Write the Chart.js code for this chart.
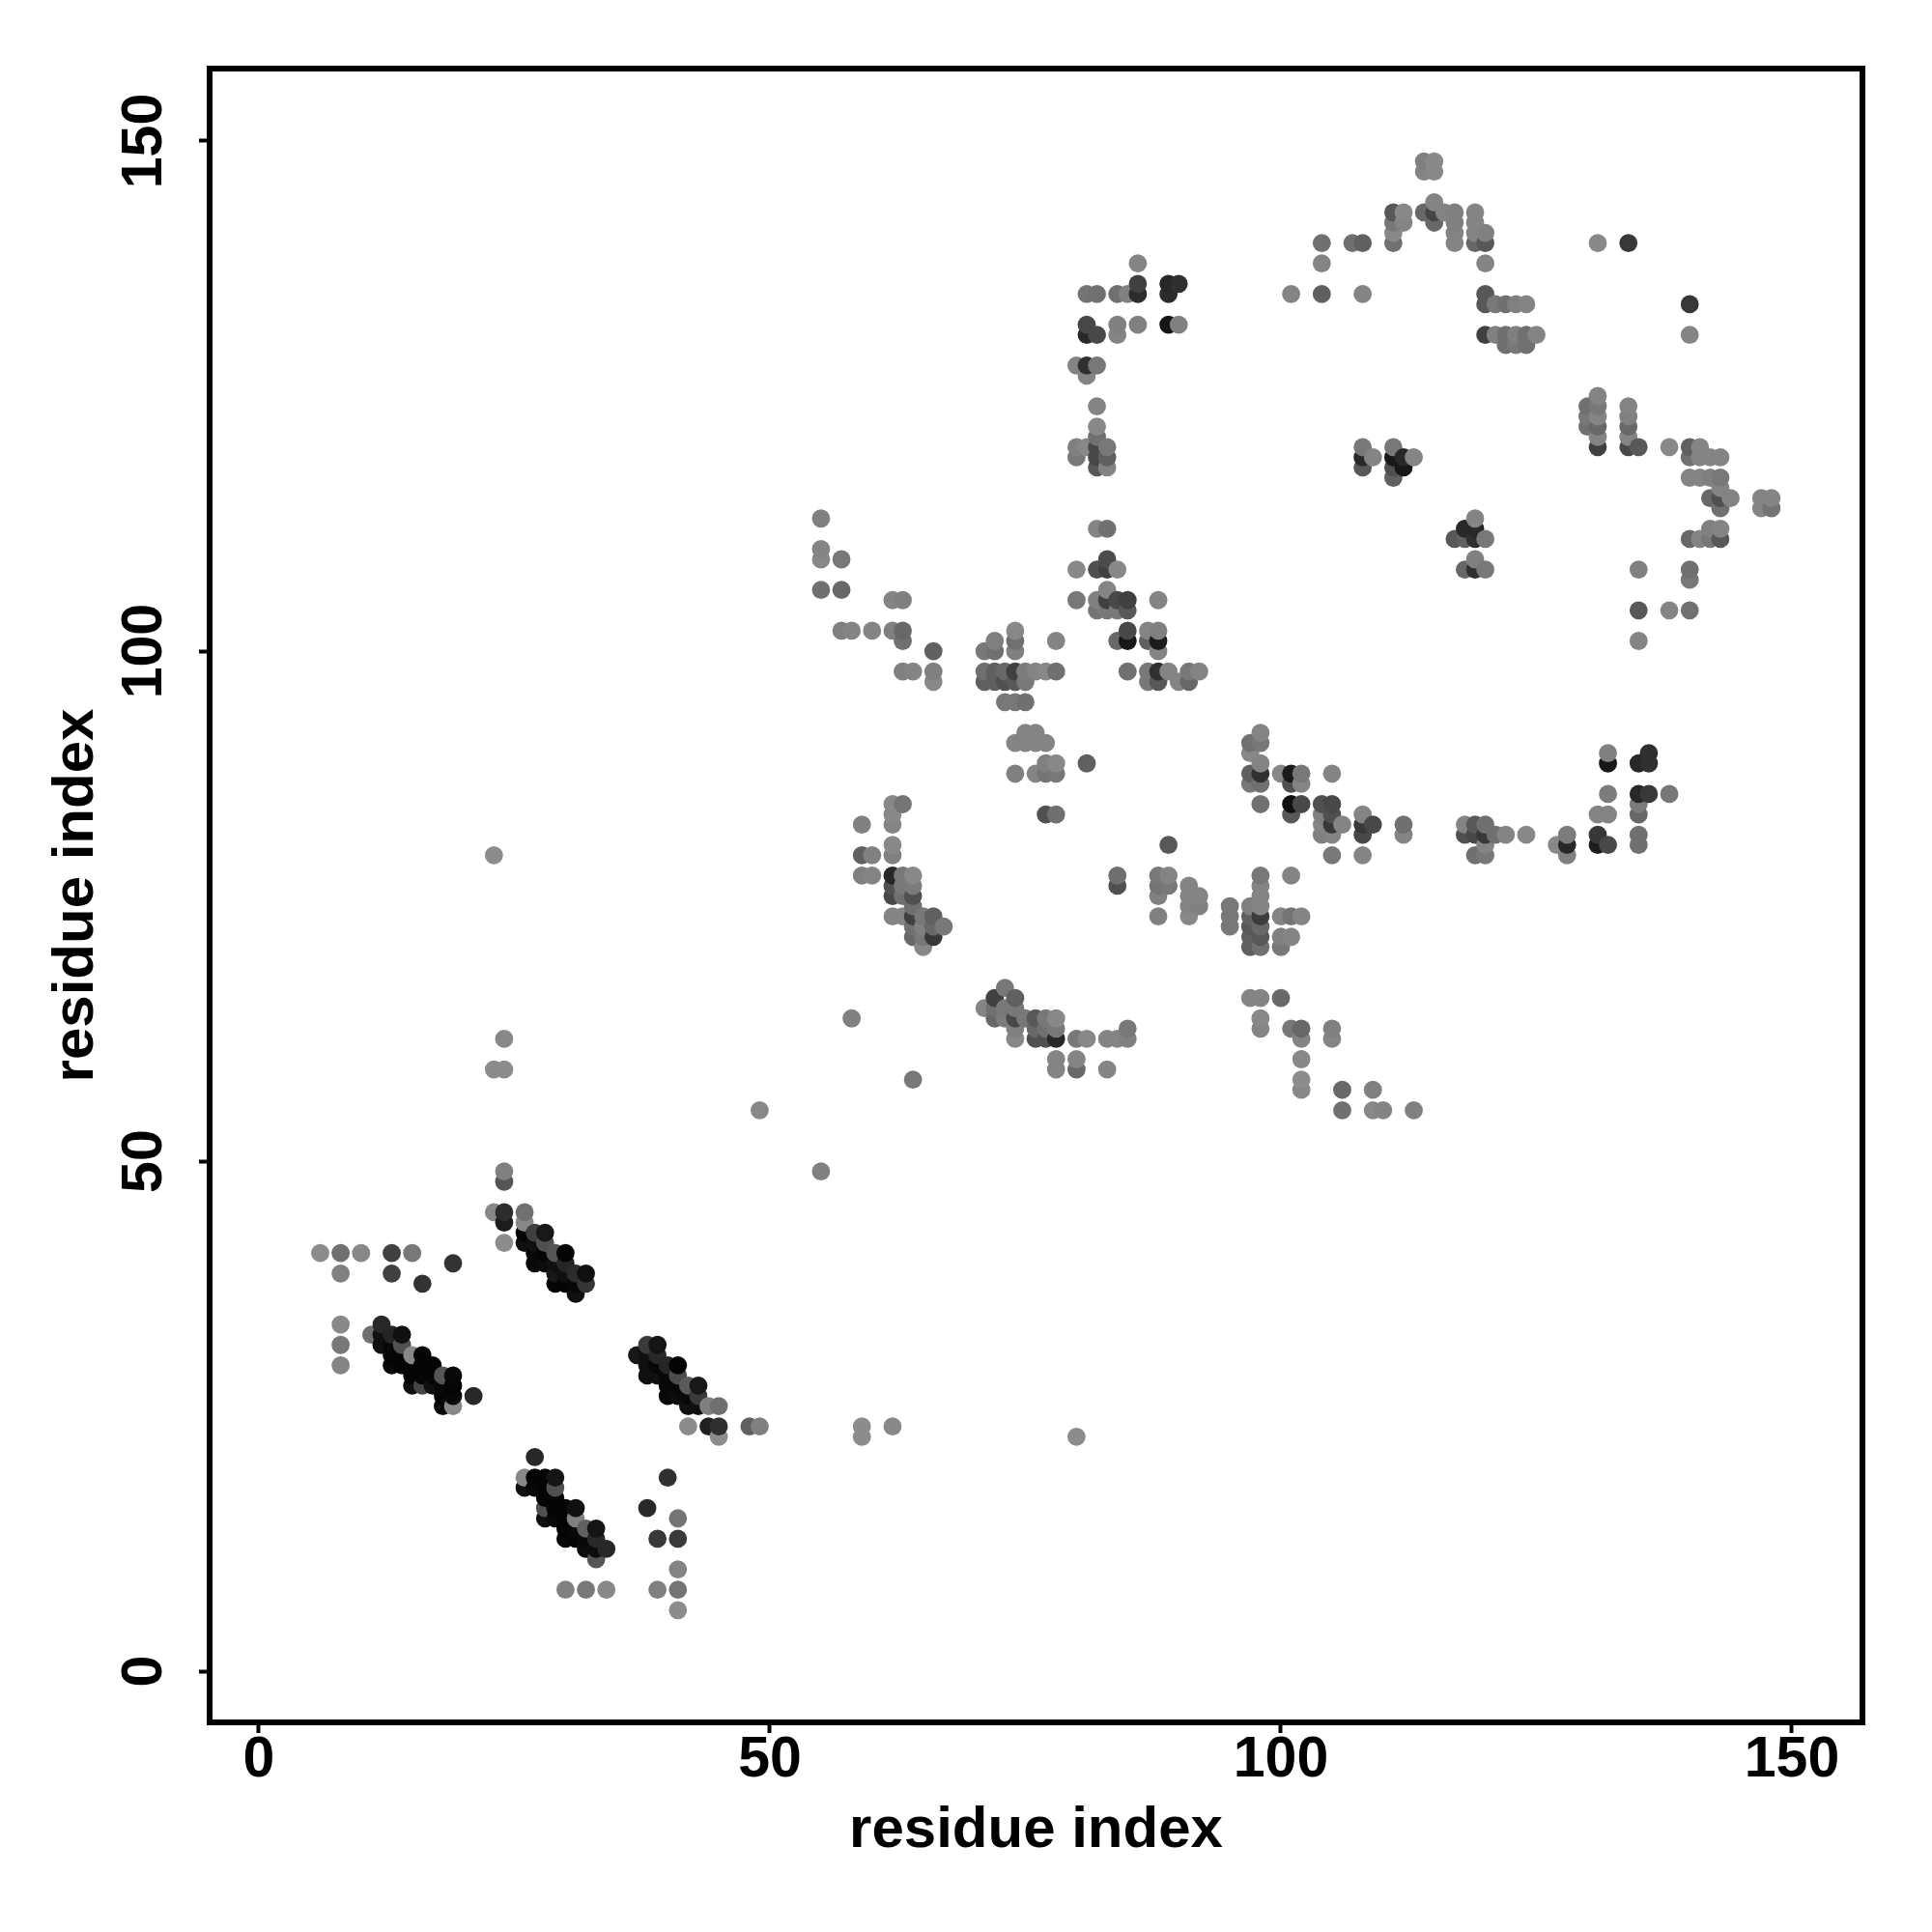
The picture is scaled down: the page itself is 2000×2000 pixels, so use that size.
<!DOCTYPE html>
<html>
<head>
<meta charset="utf-8">
<title>Residue contact map</title>
<script src="https://cdn.jsdelivr.net/npm/chart.js@4/dist/chart.umd.min.js"></script>
<style>
  html, body { margin: 0; padding: 0; background: #fff; }
  canvas { display: block; }
</style>
</head>
<body>
<canvas id="contactMap" width="2000" height="2000"></canvas>
<script>
// Tick positions shared by both axes
const tickValues = [0, 50, 100, 150];
const axisTitle = 'residue index';

// One entry per residue on the x axis; contactY and contactScore hold the partner
// residues in that column and how strong each contact looks (darker = higher)
const residueX = [
  6, 8, 10, 11, 12, 13, 14, 15, 16, 17, 18, 19, 21, 23, 24, 26, 27, 28, 29, 30, 31, 32, 33, 34,
  37, 38, 39, 40, 41, 42, 43, 44, 45, 48, 49, 55, 57, 58, 59, 60, 62, 63, 64, 65, 66, 67,
  71, 72, 73, 74, 75, 76, 77, 78, 80, 81, 82, 83, 84, 85, 86, 87, 88, 89, 90, 91, 92, 95, 97, 98,
  100, 101, 102, 104, 105, 106, 107, 108, 109, 110, 111, 112, 113, 114, 115, 116, 117, 118, 119, 120,
  121, 122, 123, 124, 125, 127, 128, 130, 131, 132, 134, 135, 136, 138, 140, 141, 142, 143, 144, 147, 148
];

const contactY = [
  [41], [30,32,34,39,41], [41], [33], [32,33,34], [30,31,32,33,39,41], [30,31,32,33], [28,29,30,31,41],
  [28,29,30,31,38], [28,29,30], [26,27,28,29], [26,27,28,29,40], [27], [45,59,80], [42,44,45,48,49,59,62],
  [18,19,42,43,44,45], [18,19,21,40,41,42,43], [15,16,17,18,19,40,41,42,43], [15,16,17,18,19,38,39,40,41],
  [8,13,14,15,16,38,39,40,41], [13,14,15,16,37,38,39], [8,12,13,14,38,39], [11,12,13,14], [8,12],
  [31], [16,29,30,31,32], [8,13,29,30,31,32], [19,27,28,29,30], [6,8,10,13,15,27,28,29,30], [24,26,27,28],
  [26,27,28], [24,26], [23,24,26], [24], [24,55], [49,106,109,110,113], [102,106,109], [64,102],
  [23,24,78,80,83], [78,80,102], [24,74,76,77,78,80,81,83,84,85,102,105], [74,76,77,78,85,98,101,102,105],
  [58,72,73,74,75,76,77,78,98], [71,72,73,74], [72,73,74,97,98,100], [73],
  [65,97,98,100], [64,65,66,97,98,100,101], [64,65,67,95,97,98], [62,63,64,65,66,88,91,95,97,98,100,101,102],
  [64,91,92,95,97,98], [62,63,64,88,91,92,98], [62,63,64,84,88,89,91,98], [59,60,62,63,64,84,88,89,98,101],
  [23,59,60,62,105,108,119,120,128], [62,89,120,127,128,131,132,135],
  [104,105,108,112,118,119,120,121,122,124,128,131,135], [59,62,104,105,106,108,109,112,118,119,120],
  [62,77,78,101,104,105,108,131,132,135], [62,63,98,101,102,104,105,135], [132,135,136,138], [97,98,101,102],
  [74,76,77,78,97,98,100,101,102,105], [77,78,81,98,132,135,136], [97,132,136], [74,75,76,77,97,98], [75,76,98],
  [73,74,75], [66,71,72,73,74,75,87,88,90,91], [63,64,66,71,72,73,74,75,76,77,78,85,87,88,89,91,92],
  [66,71,72,74,88], [63,72,74,78,84,85,87,88,135], [57,58,60,62,63,74,85,87,88], [82,83,84,85,135,138,140],
  [62,63,80,82,83,84,85,88], [55,57,83], [140], [80,82,83,84,118,119,120,135,140], [55,57,83,119], [55],
  [117,118,119,120,140,141,142,143], [82,83,118,119,142,143], [55,119], [143,147,148], [142,143,144,147,148],
  [143], [111,140,141,142,143], [82,83,108,111,112], [80,82,83,108,109,111,112,113,140,141,142,143],
  [80,81,82,83,108,111,131,134,135,138,140,141],
  [82,131,134], [82,130,131,134], [130,131,134], [82,130,131,134], [131], [81], [80,81,82], [122,123,124],
  [81,82,84,120,121,122,123,124,125,140], [81,84,86,89,90], [120,121,122,123,124,140],
  [81,82,84,85,86,89,101,104,108,120], [86,89,90], [86,104,120], [104,107,108,111,117,119,120,131,134],
  [111,117,119,120], [111,112,115,117,119], [111,112,114,115,116,117,119], [115], [114,115], [114,115]
];

const contactScore = [
  [8], [16,28,12,20,36], [12], [36], [132,132,108], [140,143,140,111,84,84], [143,143,68,132], [132,143,143,12,28],
  [79,143,143,143,97], [132,143,143], [140,143,140,63], [12,140,143,140,97], [108], [12,8,8], [8,120,104,63,20,8,12],
  [132,12,132,143,12,36], [140,143,108,140,140,132,84], [132,68,143,143,143,136,143,68,124], [140,143,143,68,127,143,124,132,63],
  [20,140,143,143,143,143,132,111,143], [143,140,20,132,132,140,104], [28,136,140,52,95,132], [63,136,108,127], [12,108],
  [124], [108,132,132,132,90], [20,92,132,140,108,127], [100,140,140,140,111], [8,32,16,90,32,136,140,72,143], [8,132,140,58],
  [132,90,124], [116,20], [8,100,36], [52], [20,12], [20,36,12,16,20], [20,44,28], [20,16],
  [8,8,20,52,20], [16,20,16], [12,16,76,68,108,20,12,16,12,12,20,16], [16,36,28,28,32,20,36,44,20],
  [28,44,36,84,36,68,24,12,16], [12,28,20,28], [92,44,52,12,20,52], [28],
  [16,52,36,28], [44,36,84,52,52,36,20], [24,28,28,28,68,44], [12,20,76,28,52,20,16,28,60,84,20,36,12],
  [28,16,16,36,28,24], [68,44,60,16,16,16,16], [68,36,28,68,32,20,16,12], [16,16,108,28,12,36,28,12,36,16],
  [8,44,16,28,28,12,28,20,16], [12,52,12,16,100,108,76,32],
  [32,20,68,16,60,76,76,36,12,16,28,76,36], [16,16,28,84,16,84,72,36,16,52,28],
  [16,68,36,44,28,76,12,16,20,36], [20,28,36,124,76,60,84,20], [20,104,84,16], [28,28,52,16],
  [20,20,32,28,60,100,16,120,20,16], [28,16,60,16,127,104,108], [16,20,100], [12,16,16,16,44,28], [20,16,16],
  [28,28,28], [16,52,52,60,52,20,28,52,12,36], [16,12,16,36,60,44,88,16,16,16,28,36,36,100,16,28,16],
  [44,28,20,16,12], [28,16,32,16,60,132,68,120,16], [12,8,12,16,44,16,76,16,28], [20,16,20,68,52,16,36],
  [16,20,28,16,92,68,76,16], [36,44,16], [36], [16,76,92,16,60,108,28,16,52], [12,20,76,16], [16],
  [52,68,124,28,36,12,28,60], [16,36,124,108,16,12], [20,16], [44,16,20], [44,79,16,12,12],
  [16], [60,16,16,20,20], [68,16,44,52,108], [36,76,60,100,20,100,108,16,44,16,16,16],
  [28,16,92,36,28,28,84,60,60,16,60,20],
  [36,20,28], [16,36,36,36], [28,20,20], [12,36,36,16], [16], [12], [20,108,24], [36,28,36],
  [120,92,16,84,16,44,16,28,16,12], [76,16,24,124,20], [76,16,44,20,16,92],
  [36,36,44,24,108,108,16,60,20,60], [92,100,100], [28,16,12], [36,28,36,44,16,36,52,16,92],
  [16,16,16,16], [28,20,44,20,16], [60,16,36,68,16,28,16], [16], [16,16], [32,16]
];

// Score 0 would be the lightest grey used in the plot, 148 is full black
const maxScore = 148;

function scoreToGrey(score) {
    const g = maxScore - score;
    return `rgb(${g}, ${g}, ${g})`;
}

// Flatten the columns, keeping the x then y order so overlaps stack like the original
const points = [];
const pointColors = [];
residueX.forEach((x, i) => {
    contactY[i].forEach((y, j) => {
        points.push({ x: x, y: y });
        pointColors.push(scoreToGrey(contactScore[i][j]));
    });
});

// Thick box round the plot area
const frameBox = {
    id: 'frameBox',
    afterDatasetsDraw(chart) {
        const { ctx, chartArea } = chart;
        ctx.save();
        ctx.strokeStyle = '#000';
        ctx.lineWidth = 6;
        ctx.strokeRect(chartArea.left, chartArea.top, chartArea.right - chartArea.left, chartArea.bottom - chartArea.top);
        ctx.restore();
    }
};

function useFixedTicks(scale) {
    scale.ticks = tickValues.map(v => ({ value: v }));
}

const tickFont = { family: '"Liberation Sans", Arial, sans-serif', size: 59, weight: 'bold' };
const titleFont = { family: '"Liberation Sans", Arial, sans-serif', size: 60, weight: 'bold' };

new Chart(document.getElementById('contactMap').getContext('2d'), {
    type: 'scatter',
    data: {
        datasets: [{
            data: points,
            backgroundColor: pointColors,
            borderWidth: 0,
            pointRadius: 9.4,
            pointHoverRadius: 9.4
        }]
    },
    plugins: [frameBox],
    options: {
        responsive: false,
        devicePixelRatio: 1,
        animation: false,
        layout: { padding: { top: 71, right: 72, left: 0, bottom: 0 } },
        plugins: {
            legend: { display: false },
            tooltip: { enabled: false }
        },
        scales: {
            x: {
                type: 'linear',
                min: -4.82,
                max: 156.9,
                afterBuildTicks: useFixedTicks,
                afterFit(scale) { scale.height = 217; },
                border: { display: false },
                grid: { drawOnChartArea: false, tickLength: 11, tickWidth: 4, tickColor: '#000' },
                ticks: { color: '#000', font: tickFont, padding: -7, maxRotation: 0, autoSkip: false },
                title: { display: true, text: axisTitle, color: '#000', font: titleFont, padding: { top: 0, bottom: 69 } }
            },
            y: {
                type: 'linear',
                min: -5,
                max: 157.1,
                afterBuildTicks: useFixedTicks,
                afterFit(scale) { scale.width = 217; },
                border: { display: false },
                grid: { drawOnChartArea: false, tickLength: 11, tickWidth: 4, tickColor: '#000' },
                ticks: { color: '#000', font: tickFont, padding: 6, minRotation: 90, maxRotation: 90, crossAlign: 'center', autoSkip: false },
                title: { display: true, text: axisTitle, color: '#000', font: titleFont, padding: { top: 43, bottom: 0 } }
            }
        }
    }
});
</script>
</body>
</html>
